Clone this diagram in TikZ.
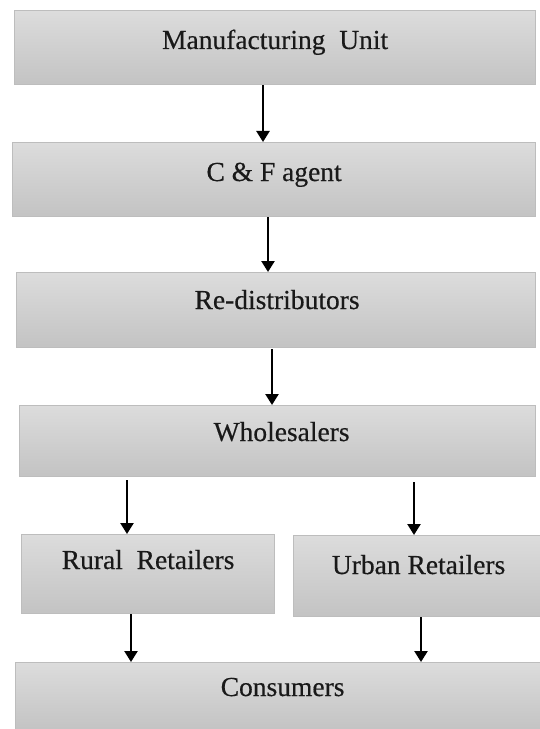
\documentclass[tikz,border=0pt]{standalone}
\usepackage{fontspec}
\setmainfont[FakeBold=0.4]{Liberation Serif}
\usetikzlibrary{arrows.meta}
\definecolor{boxedge}{HTML}{BDBDBD}
\definecolor{boxtop}{HTML}{DCDCDC}
\definecolor{boxbottom}{HTML}{C3C3C3}
\begin{document}
\begin{tikzpicture}[x=1bp,y=-1bp,
  stage/.style={draw=boxedge, line width=1.2bp, top color=boxtop, bottom color=boxbottom,
                inner sep=0pt, anchor=north west},
  caption/.style={anchor=base, text=black!90, inner sep=0pt,
                  font=\fontsize{27.5bp}{32bp}\selectfont},
  flow/.style={line width=2.4bp, -{Triangle[width=13bp,length=11bp]}}
]
\useasboundingbox (0,0) rectangle (540,729);

% stages of the distribution chain
\node[stage, minimum width=521bp, minimum height=74bp] (mfg)    at (14,10)  {};
\node[stage, minimum width=523bp, minimum height=74bp] (cf)     at (12,142) {};
\node[stage, minimum width=519bp, minimum height=75bp] (redist) at (16,272) {};
\node[stage, minimum width=516bp, minimum height=71bp] (whole)  at (19,405) {};
\node[stage, minimum width=253bp, minimum height=79bp] (rural)  at (21,534) {};
\node[stage, minimum width=248bp, minimum height=81bp] (urban)  at (293,535) {};
\node[stage, minimum width=526bp, minimum height=68bp] (cons)   at (15,662) {};

% captions, set near the top of each box
\node[caption] (mfgT)    at ([yshift=-39bp]mfg.north)    {Manufacturing~\ Unit};
\node[caption] (cfT)     at ([yshift=-39bp]cf.north)     {C \& F agent};
\node[caption] (redistT) at ([xshift=1bp,yshift=-37bp]redist.north) {Re-distributors};
\node[caption] (wholeT)  at ([xshift=4bp,yshift=-36bp]whole.north)  {Wholesalers};
\node[caption] (ruralT)  at ([yshift=-35bp]rural.north)  {Rural~\ Retailers};
\node[caption] (urbanT)  at ([xshift=1bp,yshift=-39bp]urban.north)  {Urban Retailers};
\node[caption] (consT)   at ([xshift=4bp,yshift=-34bp]cons.north)   {Consumers};

% vertical tracks of the arrows
\coordinate (x1) at (263,0);
\coordinate (x2) at (268,0);
\coordinate (x3) at (272,0);
\coordinate (x4) at (127,0);
\coordinate (x5) at (414,0);
\coordinate (x6) at (131,0);
\coordinate (x7) at (421,0);

\draw[flow] (mfg.south -| x1)    -- (cf.north -| x1);
\draw[flow] (cf.south -| x2)     -- (redist.north -| x2);
\draw[flow] ([yshift=-1bp]redist.south -| x3) -- (whole.north -| x3);
\draw[flow] ([yshift=-3bp]whole.south -| x4)  -- (rural.north -| x4);
\draw[flow] ([yshift=-5bp]whole.south -| x5)  -- (urban.north -| x5);
\draw[flow] (rural.south -| x6)  -- (cons.north -| x6);
\draw[flow] (urban.south -| x7)  -- (cons.north -| x7);
\end{tikzpicture}
\end{document}
